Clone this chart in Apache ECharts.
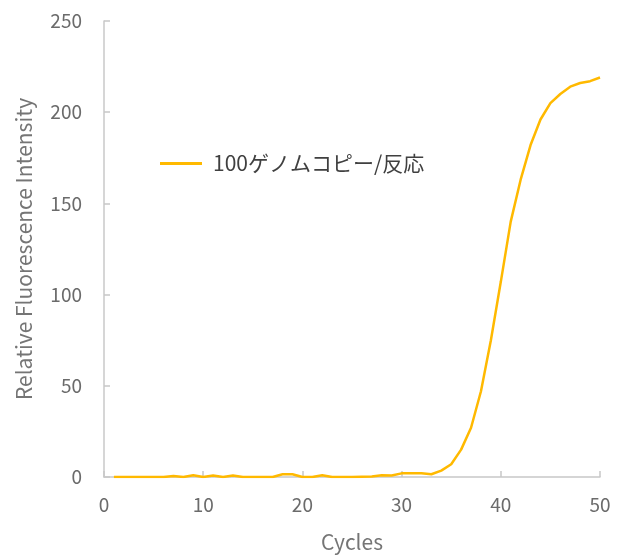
<!DOCTYPE html>
<html>
<head>
<meta charset="utf-8">
<script src="https://cdn.jsdelivr.net/npm/echarts@6/dist/echarts.min.js"></script>
<style>
html,body{margin:0;padding:0;background:#fff;}
#chart{width:619px;height:558px;}
</style>
</head>
<body>
<div id="chart"></div>
<script>
const seriesName = '100ゲノムコピー/反応';
const cycles = [1,2,3,4,5,6,7,8,9,10,11,12,13,14,15,16,17,18,19,20,21,22,23,24,25,26,27,28,29,30,31,32,33,34,35,36,37,38,39,40,41,42,43,44,45,46,47,48,49,50];
const intensity = [0,0,0,0,0,0,0.5,0,1,0,0.8,0,0.8,0,0,0,0,1.5,1.5,0,0,1,0,0,0,0.2,0.3,1,0.8,2,2,2,1.5,3.5,7,15,27,47,75,107,140,163,182,196,205,210,214,216,217,219];
const xTicks = {min:0, max:50, interval:10};
const yTicks = {min:0, max:250, interval:50};

const font = '"Noto Sans CJK JP", "Noto Sans", sans-serif';
const chart = echarts.init(document.getElementById('chart'));
chart.setOption({
  animation:false,
  backgroundColor:'#fff',
  textStyle:{fontFamily:font},
  grid:{left:104,right:19,top:21,bottom:76,containLabel:false},
  legend:{
    show:true,
    left:155, top:148,
    itemWidth:42, itemHeight:3, itemGap:10,
    icon:'rect',
    textStyle:{fontSize:21,color:'#404040',fontFamily:font,padding:[0,0,0,6]},
    data:[{name:seriesName, icon:'rect'}]
  },
  xAxis:{
    type:'value', min:xTicks.min, max:xTicks.max, interval:xTicks.interval,
    name:'Cycles', nameLocation:'middle', nameGap:55,
    nameTextStyle:{fontSize:21,color:'#757575',fontFamily:font},
    axisLine:{show:true,lineStyle:{color:'#c8c8c8',width:1.5}},
    axisTick:{show:true,inside:true,length:6,lineStyle:{color:'#c8c8c8',width:1.5}},
    axisLabel:{fontSize:19,color:'#6b6b6b',margin:18,fontFamily:font},
    splitLine:{show:false}
  },
  yAxis:{
    type:'value', min:yTicks.min, max:yTicks.max, interval:yTicks.interval,
    name:'Relative Fluorescence Intensity', nameLocation:'middle', nameGap:69,
    nameTextStyle:{fontSize:21,color:'#757575',fontFamily:font},
    axisLine:{show:true,lineStyle:{color:'#c8c8c8',width:1.5}},
    axisTick:{show:true,inside:true,length:6,lineStyle:{color:'#c8c8c8',width:1.5}},
    axisLabel:{fontSize:19,color:'#6b6b6b',margin:22,fontFamily:font},
    splitLine:{show:false}
  },
  series:[{
    name:seriesName,
    type:'line',
    data:cycles.map((c,i)=>[c,intensity[i]]),
    showSymbol:false,
    symbol:'none',
    smooth:false,
    lineStyle:{color:'#FFB900',width:2.5},
    itemStyle:{color:'#FFB900'}
  }]
});
</script>
</body>
</html>
